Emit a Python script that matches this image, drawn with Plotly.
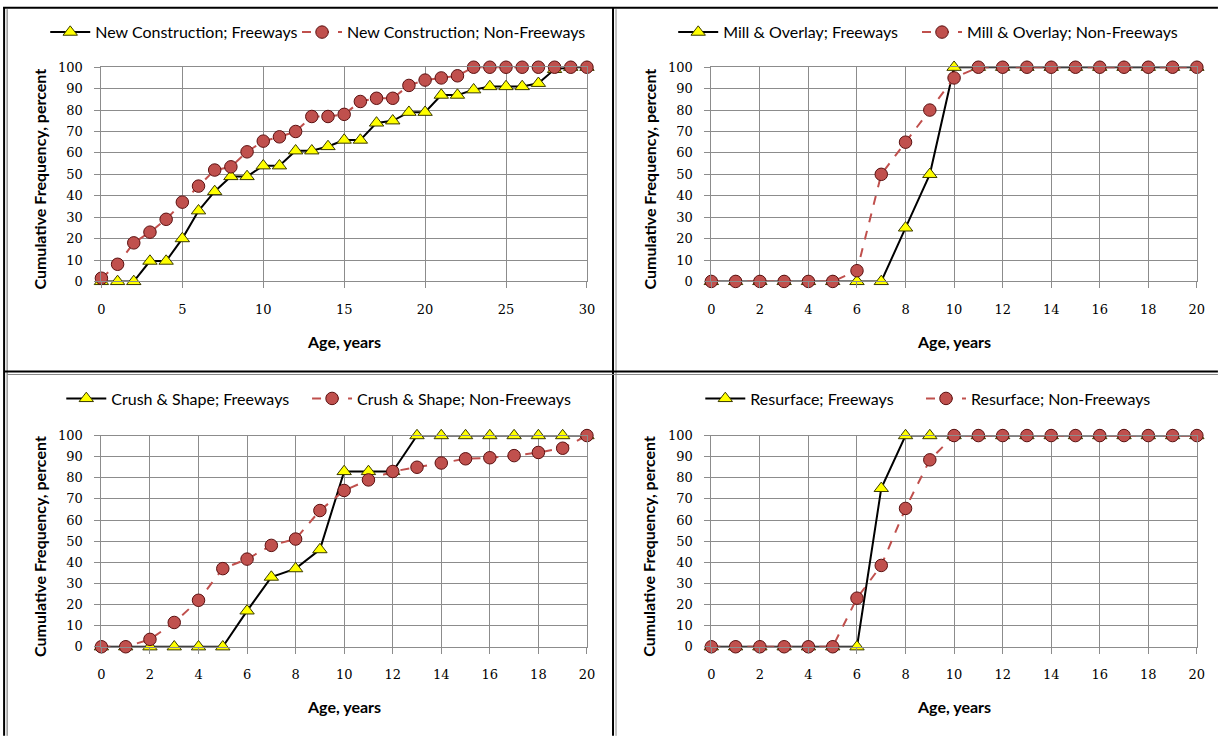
import plotly.graph_objects as go

# ---- data: cumulative frequency (percent) by age (years) ----
age30 = list(range(0, 31))
age20 = list(range(0, 21))

nc_free = [0, 0, 0, 9.5, 9.5, 20, 33, 42, 49, 49, 54, 54, 61, 61, 63, 66, 66, 74, 75, 79,
           79, 87, 87, 89.5, 91, 91, 91, 92.5, 99, 100, 100]
nc_nonfree = [1.5, 8, 18, 23, 29, 37, 44.5, 52, 53.5, 60.5, 65.5, 67.5, 70, 77, 77, 78, 84,
              85.5, 85.5, 91.5, 94, 95, 96, 100, 100, 100, 100, 100, 100, 100, 100]

mo_free = [0, 0, 0, 0, 0, 0, 0, 0, 25, 50, 100, 100, 100, 100, 100, 100, 100, 100, 100, 100, 100]
mo_nonfree = [0, 0, 0, 0, 0, 0, 5, 50, 65, 80, 95, 100, 100, 100, 100, 100, 100, 100, 100, 100, 100]

cs_free = [0, 0, 0, 0, 0, 0, 17, 33, 37, 46, 83, 83, 83, 100, 100, 100, 100, 100, 100, 100, 100]
cs_nonfree = [0, 0, 3.5, 11.5, 22, 37, 41.5, 48, 51, 64.5, 74, 79, 83, 85, 87, 89, 89.5, 90.5,
              92, 94, 100]

rs_free = [0, 0, 0, 0, 0, 0, 0, 75, 100, 100, 100, 100, 100, 100, 100, 100, 100, 100, 100, 100, 100]
rs_nonfree = [0, 0, 0, 0, 0, 0, 23, 38.5, 65.5, 88.5, 100, 100, 100, 100, 100, 100, 100, 100,
              100, 100, 100]

panels = [
    ("New Construction", age30, nc_free, nc_nonfree, 5),
    ("Mill & Overlay", age20, mo_free, mo_nonfree, 2),
    ("Crush & Shape", age20, cs_free, cs_nonfree, 2),
    ("Resurface", age20, rs_free, rs_nonfree, 2),
]

W, H = 1218, 736
# the page shows the chart inside an 8px body margin; layout is given in
# page pixels and converted to chart pixels here
SX, SY = (W + 16) / W, (H + 16) / H


def fx(px):
    return (px * SX - 8) / W


def fy(py):
    return 1 - (py * SY - 8) / H


# plot areas in page pixels: (left, right, top, bottom)
boxes = [(105, 589, 68, 282), (713, 1197, 68, 282),
         (105, 589, 436, 647), (713, 1197, 436, 647)]
# legend entries: left edge of the freeway and non-freeway samples, row centre
legend_pos = [(50, 301, 33), (676, 919, 33), (66, 311, 399), (703, 923, 399)]
# axis title centres
ytitle_pos = [(43, 180), (651, 180), (43, 547), (651, 547)]
xtitle_y = [342, 342, 707, 707]

GRID = "#8c8c8c"
SANS = "Lato"
SERIF = "DejaVu Serif"

fig = go.Figure()
annotations = []
shapes = []
layout_extra = {}

for i, (name, ages, free, nonfree, dt) in enumerate(panels):
    n = i + 1
    xa = "x" if n == 1 else f"x{n}"
    ya = "y" if n == 1 else f"y{n}"
    lg_free = "legend" if i == 0 else f"legend{2 * i + 1}"
    lg_non = f"legend{2 * i + 2}"
    l, r, t, b = boxes[i]
    lx1, lx2, ly = legend_pos[i]

    fig.add_trace(go.Scatter(
        x=ages, y=free, mode="lines+markers", name=f"{name}; Freeways",
        xaxis=xa, yaxis=ya, legend=lg_free, cliponaxis=False,
        line=dict(color="black", width=2),
        marker=dict(symbol="triangle-up", size=12.5, color="#ffff00",
                    line=dict(color="#3a3a00", width=1)),
    ))
    fig.add_trace(go.Scatter(
        x=ages, y=nonfree, mode="lines+markers", name=f"{name}; Non-Freeways",
        xaxis=xa, yaxis=ya, legend=lg_non, cliponaxis=False,
        line=dict(color="#c0504d", width=2, dash="dash"),
        marker=dict(symbol="circle", size=12.5, color="#c0504d",
                    line=dict(color="#5a1010", width=1)),
    ))

    axis_common = dict(showgrid=True, gridcolor=GRID, gridwidth=1,
                       showline=True, linecolor=GRID, linewidth=1,
                       ticks="outside", ticklen=6, tickcolor=GRID,
                       zeroline=False, tickfont=dict(family=SERIF, size=13, color="black"))
    layout_extra["xaxis" if n == 1 else f"xaxis{n}"] = dict(
        axis_common, domain=[fx(l), fx(r)], anchor=ya, range=[0, ages[-1]],
        dtick=dt, tick0=0, mirror=True, ticklabelstandoff=10)
    layout_extra["yaxis" if n == 1 else f"yaxis{n}"] = dict(
        axis_common, domain=[fy(b), fy(t)], anchor=xa, range=[0, 100],
        dtick=10, tick0=0, mirror=True, ticklabelstandoff=9)
    for lg, lx in ((lg_free, lx1), (lg_non, lx2)):
        layout_extra[lg] = dict(orientation="h", x=fx(lx - 1), xanchor="left",
                                y=fy(ly), yanchor="middle",
                                font=dict(family=SANS, size=16, color="black"),
                                bgcolor="rgba(0,0,0,0)", itemwidth=40)

    annotations.append(dict(text="<b>Age, years</b>", x=fx((l + r) / 2), y=fy(xtitle_y[i]),
                            xref="paper", yref="paper", showarrow=False,
                            xanchor="center", yanchor="middle",
                            font=dict(family=SANS, size=16, color="black")))
    tx, tyc = ytitle_pos[i]
    annotations.append(dict(text="<b>Cumulative Frequency, percent</b>", textangle=-90,
                            x=fx(tx), y=fy(tyc),
                            xref="paper", yref="paper", showarrow=False,
                            xanchor="center", yanchor="middle",
                            font=dict(family=SANS, size=16, color="black")))


# panel frame lines (page pixels)
def pline(x0, y0, x1, y1, color="black", width=2):
    shapes.append(dict(type="line", xref="paper", yref="paper",
                       x0=fx(x0), y0=fy(y0), x1=fx(x1), y1=fy(y1),
                       line=dict(color=color, width=width)))


pline(7, 8.5, 1218, 8.5)
pline(8, 8, 8, 736)
pline(11, 10, 11, 736, "#666666", 1)
pline(615, 8, 615, 736)
pline(618, 10, 618, 736, "#888888", 1)
pline(8, 372, 1218, 372)
pline(11, 375, 1218, 375, "#888888", 1)

fig.update_layout(width=W, height=H, margin=dict(l=0, r=0, t=0, b=0),
                  paper_bgcolor="white", plot_bgcolor="white",
                  annotations=annotations, shapes=shapes, showlegend=True,
                  **layout_extra)

fig.write_html("out.html")
